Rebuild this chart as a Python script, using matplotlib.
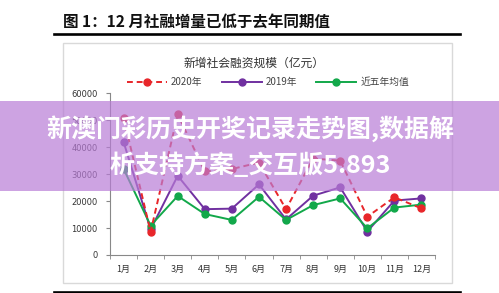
import matplotlib

matplotlib.use("Agg")
import matplotlib.pyplot as plt
from matplotlib.lines import Line2D
from matplotlib.patches import Rectangle

plt.rcParams["font.family"] = ["Noto Sans CJK SC", "DejaVu Sans"]

# data (亿元)
months = ["1月", "2月", "3月", "4月", "5月", "6月", "7月", "8月", "9月", "10月", "11月", "12月"]
y2020 = [51000, 8600, 52200, 31000, 31900, 34300, 17000, 35800, 35000, 14200, 21400, 17300]
y2019 = [42000, 9500, 29400, 17000, 17200, 26200, 13200, 22000, 25100, 8700, 20200, 21000]
avg5 = [32000, 10900, 21900, 15200, 13000, 21600, 13000, 18500, 21000, 9900, 17600, 18700]
yticks = [0, 10000, 20000, 30000, 40000, 50000, 60000]

W, H = 499, 293
RED = "#e8262a"
PURPLE = "#7030a0"
GREEN = "#12a84a"


def fx(px):
    return px / W


def fy(py):
    return 1 - py / H


fig = plt.figure(figsize=(W / 100, H / 100), dpi=100)
fig.patch.set_facecolor("white")

# header and rules
fig.text(fx(63), fy(22), "图 1：12 月社融增量已低于去年同期值", fontsize=11.2,
         fontweight="bold", ha="left", va="center", color="#111111")
fig.add_artist(Line2D([fx(54), fx(460)], [fy(33.5), fy(33.5)], color="black", lw=1.9))
fig.add_artist(Line2D([fx(54), fx(460)], [fy(291.5), fy(291.5)], color="black", lw=1.9))

# chart frame
fig.add_artist(Rectangle((fx(63), fy(283)), fx(452) - fx(63), fy(43) - fy(283),
                         transform=fig.transFigure, fill=False, edgecolor="#d9d9d9", lw=1.0))
fig.text(fx(254), fy(63), "新增社会融资规模（亿元）", fontsize=8.5,
         ha="center", va="center", color="#333333")

ax = fig.add_axes([fx(110), fy(255), fx(435) - fx(110), fy(93.3) - fy(255)])
x = list(range(len(months)))

l20, = ax.plot(x, y2020, color=RED, lw=1.4, ls=(0, (3, 2)), marker="o", ms=5,
               label="2020年", zorder=3)
l19, = ax.plot(x, y2019, color=PURPLE, lw=1.4, marker="o", ms=5, label="2019年", zorder=2)
l5, = ax.plot(x, avg5, color=GREEN, lw=1.4, marker="o", ms=5, label="近五年均值", zorder=2)

ax.set_xlim(-0.5, len(months) - 0.5)
ax.set_ylim(0, 60000)
ax.set_yticks(yticks)
ax.set_yticklabels([str(v) for v in yticks], fontsize=6, color="#333333", family="DejaVu Sans")
ax.set_xticks(x)
ax.set_xticklabels(months, fontsize=6.5, color="#333333")
ax.set_xticks([i - 0.5 for i in range(len(months) + 1)], minor=True)
ax.tick_params(axis="x", which="major", length=0, pad=7)
ax.tick_params(axis="x", which="minor", length=3, direction="out", color="#888888")
ax.tick_params(axis="y", length=3, direction="out", color="#888888", pad=6)
for side in ("top", "right"):
    ax.spines[side].set_visible(False)
for side in ("left", "bottom"):
    ax.spines[side].set_color("#888888")
    ax.spines[side].set_linewidth(0.8)

fig.legend(handles=[l20, l19, l5], loc="center", bbox_to_anchor=(fx(268), fy(82)),
           ncol=3, frameon=False, fontsize=7, handlelength=4.1, handletextpad=0.4,
           columnspacing=2.0, labelcolor="#444444")

# overlay band with text
fig.add_artist(Rectangle((0, fy(190.5)), 1, fy(101) - fy(190.5), transform=fig.transFigure,
                         facecolor="#b87cd6", alpha=0.7, edgecolor="none", zorder=10))
fig.text(fx(250), fy(129), "新澳门彩历史开奖记录走势图,数据解", fontsize=18, fontweight="bold",
         color="white", ha="center", va="center", zorder=11)
fig.text(fx(250), fy(165), "析支持方案_交互版5.893", fontsize=18, fontweight="bold",
         color="white", ha="center", va="center", zorder=11)

fig.savefig("out.png", dpi=100)
